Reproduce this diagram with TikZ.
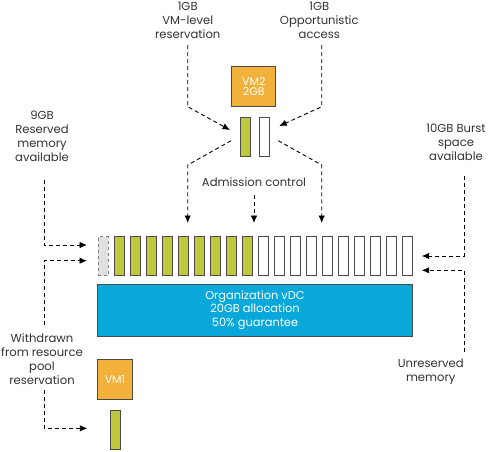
\documentclass[tikz,border=0pt]{standalone}
\usepackage{fontspec}
\setmainfont{Poppins}
\usetikzlibrary{arrows.meta}
\definecolor{vgreen}{HTML}{BFC93C}
\definecolor{vorange}{HTML}{F1B13B}
\definecolor{vblue}{HTML}{09A8DA}
\definecolor{txtgray}{HTML}{333333}
\definecolor{edgegray}{HTML}{4A4A4A}
\definecolor{lightfill}{HTML}{E0E0E0}
\tikzset{
  lbl/.style={font=\fontsize{11.6}{14}\selectfont, text=txtgray, align=center, inner sep=0pt},
  conn/.style={draw=black, dash pattern=on 4pt off 3pt, line width=0.9pt, -{Latex[length=7.5pt,width=6.5pt]}},
  bar/.style={draw=edgegray, line width=1pt, minimum width=10pt, minimum height=39pt, inner sep=0pt, anchor=north west},
  vmbox/.style={draw=edgegray, line width=0.8pt, fill=vorange, text=white, inner sep=0pt, font=\fontsize{11}{10.5}\selectfont, align=center},
}
\begin{document}
\begin{tikzpicture}[x=1pt,y=-1pt]
\useasboundingbox[fill=white] (0,0) rectangle (495,451);

% memory bars
\node[bar, draw=gray, dashed, fill=lightfill] (b0) at (97.8,236) {};
\foreach \i in {1,...,9} \node[bar, fill=vgreen] (b\i) at ({97.8+16*\i},236) {};
\foreach \i in {10,...,19} \node[bar, fill=white] (b\i) at ({97.8+16*\i},236) {};

% vDC
\node[draw=edgegray, line width=0.8pt, fill=vblue, minimum width=315pt, minimum height=52pt, inner sep=0pt,
      text=white, font=\fontsize{11.4}{13.3}\selectfont, align=center] (vdc) at (255,310)
      {Organization vDC\\20GB allocation\\50\% guarantee};

% VM2
\node[vmbox, minimum width=44pt, minimum height=40pt] (vm2) at (253.8,86.7) {VM2\\2GB};
\node[bar, fill=vgreen] (g2) at (239.8,116.5) {};
\node[bar, fill=white] (w2) at (258.8,116.5) {};

% VM1
\node[vmbox, minimum width=35pt, minimum height=40pt] (vm1) at (115,379.3) {VM1};
\node[bar, fill=vgreen] (g1) at (109.8,409.8) {};

% labels
\node[lbl] (lvm) at (187.7,20.7) {1GB\\VM-level\\reservation};
\node[lbl] (opp) at (319.3,20.7) {1GB\\Opportunistic\\access};
\node[lbl] (adm) at (254,181.7) {Admission control};
\node[lbl] (res) at (42,135.9) {9GB\\Reserved\\memory\\available};
\node[lbl] (burst) at (456,142.5) {10GB Burst\\space\\available};
\node[lbl] (wd) at (42,358.9) {Withdrawn\\from resource\\pool\\reservation};
\node[lbl] (unr) at (430.7,372) {Unreserved\\memory};

% bend points and tips
\coordinate (k1) at (187.7,106.7); \coordinate (t1) at (230,130);
\coordinate (k2) at (321.7,106.7); \coordinate (t2) at (279.3,126);
\coordinate (s3) at (231,140.7);   \coordinate (k3) at (187.7,165); \coordinate (t3) at (187.7,223);
\coordinate (t4) at (254,223);
\coordinate (s5) at (278.3,140.7); \coordinate (k5) at (321.7,165); \coordinate (t5) at (321.7,223);
\coordinate (tl1) at (87,245);   \coordinate (tl2) at (87,260.7);
\coordinate (tr1) at (421.7,256); \coordinate (tr2) at (421.7,270.3);
\coordinate (tw) at (87.3,428.3);

% connectors
\draw[conn] (lvm.south |- 0,45) -- (k1) -- (t1);
\draw[conn] (k2 |- 0,45) -- (k2) -- (t2);
\draw[conn] (s3) -- (k3) -- (t3);
\draw[conn] (adm.south |- 0,195) -- (t4);
\draw[conn] (s5) -- (k5) -- (t5);
\draw[conn] (44.3,180) |- (tl1);
\draw[conn] (44.3,325) |- (tl2);
\draw[conn] (44.3,390) |- (tw);
\draw[conn] (464.3,176) |- (tr1);
\draw[conn] (464.3,352) |- (tr2);
\end{tikzpicture}
\end{document}
